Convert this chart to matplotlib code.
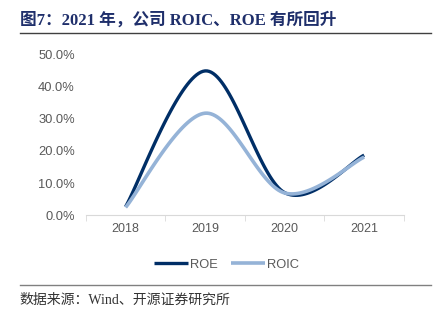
import numpy as np
import matplotlib
matplotlib.use("Agg")
import matplotlib.pyplot as plt
from matplotlib.ticker import FuncFormatter

plt.rcParams['font.family'] = ['Liberation Sans', 'Noto Sans CJK SC', 'DejaVu Sans']

years = ['2018', '2019', '2020', '2021']
roe = [2.6, 45.0, 7.0, 18.7]
roic = [2.4, 31.8, 6.9, 18.1]


def smooth(xs, ys, n=40):
    # Excel-style smoothed line (Catmull-Rom bezier)
    xs = np.asarray(xs, float)
    ys = np.asarray(ys, float)
    px = np.concatenate([[xs[0]], xs, [xs[-1]]])
    py = np.concatenate([[ys[0]], ys, [ys[-1]]])
    ox, oy = [], []
    t = np.linspace(0, 1, n)
    for i in range(1, len(px) - 2):
        p0 = np.array([px[i], py[i]])
        p3 = np.array([px[i + 1], py[i + 1]])
        p1 = p0 + (np.array([px[i + 1], py[i + 1]]) - np.array([px[i - 1], py[i - 1]])) / 6
        p2 = p3 - (np.array([px[i + 2], py[i + 2]]) - np.array([px[i], py[i]])) / 6
        b = ((1 - t) ** 3)[:, None] * p0 + (3 * (1 - t) ** 2 * t)[:, None] * p1 \
            + (3 * (1 - t) * t ** 2)[:, None] * p2 + (t ** 3)[:, None] * p3
        ox.extend(b[:, 0])
        oy.extend(b[:, 1])
    return np.array(ox), np.array(oy)


fig = plt.figure(figsize=(4.4, 3.21), dpi=100)
ax = fig.add_axes([0.195, 0.330, 0.723, 0.499])

x = np.arange(len(years))
sx, sy = smooth(x, roe)
ax.plot(sx, sy, color='#002E66', lw=2.4, label='ROE', solid_capstyle='butt')
sx, sy = smooth(x, roic)
ax.plot(sx, sy, color='#95B3D7', lw=2.6, label='ROIC', solid_capstyle='butt')

ax.set_xlim(-0.5, 3.5)
ax.set_ylim(0, 50)
ax.set_yticks(np.arange(0, 51, 10))
ax.yaxis.set_major_formatter(FuncFormatter(lambda v, p: f'{v:.1f}%'))
ax.set_xticks(x)
ax.set_xticklabels(years)
ax.set_xticks(np.arange(-0.5, 3.6, 1), minor=True)
ax.tick_params(axis='x', which='major', length=0, pad=6, labelsize=9, labelcolor='#595959')
ax.tick_params(axis='x', which='minor', length=4, color='#D9D9D9', direction='out')
ax.tick_params(axis='y', length=0, pad=8, labelsize=9.3, labelcolor='#595959')
for s in ['top', 'right', 'left']:
    ax.spines[s].set_visible(False)
ax.spines['bottom'].set_color('#D9D9D9')
ax.spines['bottom'].set_zorder(0)

leg = ax.legend(loc='upper center', bbox_to_anchor=(0.443, -0.2), ncol=2, frameon=False,
                fontsize=9.3, handlelength=2.6, columnspacing=1.0, handletextpad=0.2)
for t in leg.get_texts():
    t.set_color('#595959')

fig.text(0.045, 0.935, '图7：2021 年，公司 ROIC、ROE 有所回升', fontsize=12, fontweight='bold',
         color='#1F2F6B', family=['Liberation Serif', 'Noto Sans CJK SC'], va='center')
fig.add_artist(plt.Line2D([0.045, 0.98], [0.897, 0.897], color='#404040', lw=1))
fig.add_artist(plt.Line2D([0.045, 0.98], [0.112, 0.112], color='#808080', lw=1))
fig.text(0.045, 0.065, '数据来源：Wind、开源证券研究所', fontsize=10, color='#333333',
         family=['Liberation Serif', 'Noto Sans CJK SC'], va='center')

fig.savefig('out.png', dpi=100)
